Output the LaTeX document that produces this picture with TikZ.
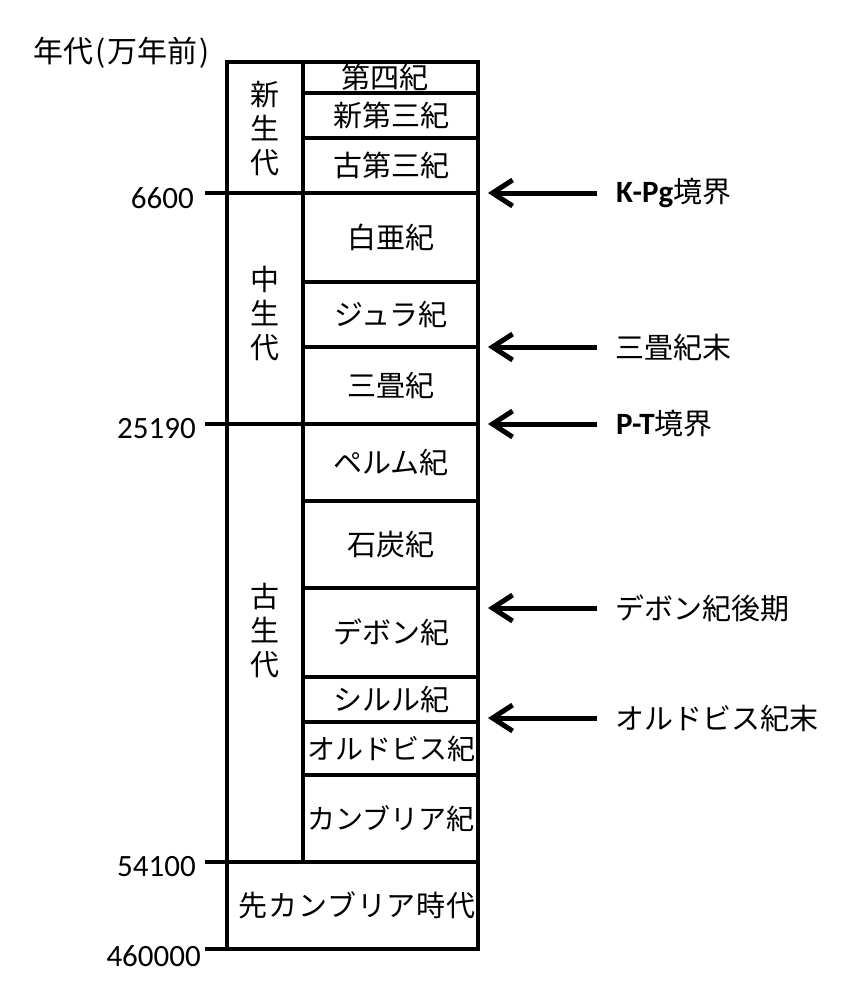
\documentclass[tikz,border=0pt]{standalone}
\usepackage{fontspec}
\setmainfont{Carlito}
\newfontfamily\jp{Noto Sans CJK JP}
\usetikzlibrary{arrows.meta}
\tikzset{
  grid/.style={line width=3.5pt},
  period/.style={font=\jp\fontsize{29}{34}\selectfont, inner sep=0pt},
  era/.style={font=\jp\fontsize{29}{34}\selectfont, align=center, inner sep=0pt},
  age/.style={font=\fontsize{31}{36}\selectfont, anchor=east, inner sep=0pt},
  event/.style={font=\jp\fontsize{29}{34}\selectfont, anchor=west, inner sep=0pt},
  pointer/.style={line width=5pt, -{Straight Barb[length=20pt,width=26pt]}},
}
\begin{document}
\begin{tikzpicture}[x=1pt,y=-1pt]
    \useasboundingbox (0,0) rectangle (846,1004);
    % Frame and era column
    \draw[grid] (227,62) rectangle (478,949);
    \draw[grid] (303,62) -- (303,862);
    % Era boundaries, with ticks
    \foreach \y in {193,424,862,949}
        \draw[grid] (205,\y) -- (478,\y);
    % Period boundaries
    \foreach \y in {93,138,282,347,501,588,677,722,775}
        \draw[grid] (303,\y) -- (478,\y);
    % Axis title and ages
    \node[event, font=\jp\fontsize{30}{34}\selectfont] (unit) at (33,53) {年代\kern2pt(\kern2pt万年前\kern2pt)};
    \node[age] (t6600) at (194,198) {6600};
    \node[age] (t25190) at (196,429) {25190};
    \node[age] (t54100) at (196,867) {54100};
    \node[age] (t460000) at (201,956) {460000};
    % Eras
    \node[era] (cenozoic) at (265,129) {新\\生\\代};
    \node[era] (mesozoic) at (265,314) {中\\生\\代};
    \node[era] (paleozoic) at (265,630) {古\\生\\代};
    % Periods
    \node[period] (quaternary) at (385,77.5) {第四紀};
    \node[period] (neogene) at (391,115.5) {新第三紀};
    \node[period] (paleogene) at (391,165.5) {古第三紀};
    \node[period] (cretaceous) at (391,237.5) {白亜紀};
    \node[period] (jurassic) at (391,314.5) {ジュラ紀};
    \node[period] (triassic) at (391,385.5) {三畳紀};
    \node[period] (permian) at (391,462.5) {ペルム紀};
    \node[period] (carboniferous) at (391,544.5) {石炭紀};
    \node[period] (devonian) at (391,632.5) {デボン紀};
    \node[period] (silurian) at (391,699.5) {シルル紀};
    \node[period, font=\jp\fontsize{28}{34}\selectfont] (ordovician) at (391,748.5) {オルドビス紀};
    \node[period, font=\jp\fontsize{28}{34}\selectfont] (cambrian) at (391,818.5) {カンブリア紀};
    \node[period] (precambrian) at (357,905.5) {\addfontfeature{LetterSpace=3}先カンブリア時代};
    % Extinction events
    \node[event] (kpg) at (616,193) {{\rmfamily\bfseries\fontsize{31}{34}\selectfont K-Pg}境界};
    \node[event] (endtr) at (615,347) {三畳紀末};
    \node[event] (pt) at (616,424) {{\rmfamily\bfseries\fontsize{31}{34}\selectfont P-T}境界};
    \node[event] (latedev) at (615,608) {デボン紀後期};
    \node[event] (endord) at (615,718) {オルドビス紀末};
    \coordinate (kpgtip) at (488,193);
    \coordinate (endtrtip) at (488,347);
    \coordinate (pttip) at (488,424);
    \coordinate (latedevtip) at (488,608);
    \coordinate (endordtip) at (488,718);
    % Arrows
    \draw[pointer] ([xshift=-19pt]kpg.west) -- (kpgtip);
    \draw[pointer] ([xshift=-18pt]endtr.west) -- (endtrtip);
    \draw[pointer] ([xshift=-19pt]pt.west) -- (pttip);
    \draw[pointer] ([xshift=-18pt]latedev.west) -- (latedevtip);
    \draw[pointer] ([xshift=-18pt]endord.west) -- (endordtip);
\end{tikzpicture}
\end{document}
